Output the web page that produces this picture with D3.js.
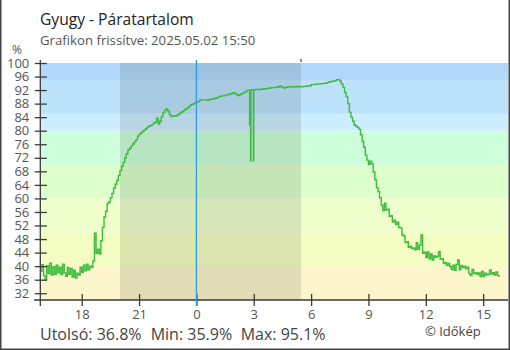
<!DOCTYPE html>
<html><head><meta charset="utf-8">
<script src="https://cdn.jsdelivr.net/npm/d3@7"></script>
<style>
html,body{margin:0;padding:0;background:#fff;}
svg{display:block;font-family:"Open Sans",sans-serif;}
</style></head>
<body><svg id="c" width="510" height="350"></svg>
<script>
// ---- data ----
const startHour = -8 - 10/60;   // 15:50 previous day, hours relative to midnight
const stepMin = 5;              // main series: one reading every 5 minutes
const humidity = [
 38.5,40.4,37.2,35.9,40.1,37.8,40.9,37.4,39.8,37.6,40.3,38.0,
 39.7,37.5,40.6,38.0,37.0,39.6,37.6,39.3,36.8,38.8,36.5,37.9,
 37.4,39.7,38.2,40.3,38.6,40.6,38.9,40.0,39.6,41.5,49.7,43.8,
 45.0,43.6,47.5,51.5,54.5,56.2,58.5,59.0,60.2,61.5,63.0,64.2,
 65.3,66.8,68.2,69.5,70.6,72.0,73.2,74.3,74.8,75.6,76.1,76.7,
 77.3,78.4,79.0,79.4,79.8,80.1,80.6,81.0,81.3,81.5,81.8,82.3,
 82.5,83.7,82.0,82.8,84.2,85.3,86.0,86.4,85.8,84.8,84.2,84.3,
 84.4,84.3,84.7,85.0,85.4,85.6,86.0,86.4,86.6,87.1,87.5,87.8,
 88.0,88.3,88.5,88.6,89.0,89.1,89.1,89.1,89.1,89.0,89.2,89.3,
 89.3,89.5,89.6,89.8,90.0,90.2,90.3,90.3,90.5,90.6,90.7,90.9,
 91.0,91.2,91.0,90.7,90.4,90.6,90.9,91.1,91.4,91.7,92.0,92.0,
 92.1,92.1,92.1,92.2,92.2,92.1,92.2,92.3,92.2,92.4,92.5,92.5,
 92.6,92.7,92.7,92.8,92.8,92.9,93.2,93.0,92.8,92.6,92.8,93.0,
 93.0,93.0,92.9,93.0,93.0,93.1,93.0,93.0,93.0,93.1,93.1,93.2,
 93.2,93.3,93.6,93.6,93.7,93.8,93.8,93.8,93.9,93.9,94.0,94.0,
 94.2,94.4,94.5,94.6,94.7,94.8,95.1,95.1,94.6,93.8,92.8,91.3,
 90.0,88.0,85.5,84.0,82.8,81.7,81.3,81.0,80.4,78.8,76.8,75.1,
 72.8,71.3,70.0,71.0,70.2,67.8,65.5,63.2,62.0,60.2,58.0,56.4,
 58.6,56.6,56.8,54.7,54.9,53.0,53.6,52.3,53.0,51.4,51.3,49.2,
 48.9,47.0,47.2,45.6,45.9,45.2,45.4,44.8,46.9,45.0,46.2,49.2,
 43.8,44.1,42.6,44.2,42.2,43.6,41.8,43.0,42.6,42.9,44.3,42.1,
 42.2,40.8,41.1,40.2,40.8,39.9,39.0,40.3,38.8,40.5,41.8,38.9,
 40.2,39.6,40.0,39.2,39.7,37.8,37.2,39.0,37.8,38.1,37.6,38.0,
 36.9,38.4,36.9,37.9,37.4,37.6,38.9,37.7,38.1,37.4,38.3,37.2,
 36.8
];
// short single-minute readings (sensor dropouts around 03:00): [minutes after 15:50, value]
const shortReadings = [[657,81.7],[658,92.0],[660,71.1],[661,92.1],[669,71.1],[670,92.1]];
const xTickHours = [-6,-3,0,3,6,9,12,15];
const xTickLabels = ["18","21","0","3","6","9","12","15"];
const yTicks = [32,36,40,44,48,52,56,60,64,68,72,76,80,84,88,92,96,100];
const bandLimits = [30,40,50,60,70,80,85,95,100];
const bandColors = ["#fdf6cc","#f5fec2","#eeffcc","#ddffcc","#ccffda","#cdeeff","#bde2fc","#b1d8fb"];
const night = [-4.0, 5.47];
const title = "Gyugy - Páratartalom";
const subtitle = "Grafikon frissítve: 2025.05.02 15:50";
const summaryParts = ["Utolsó: 36.8%", "Min: 35.9%", "Max: 95.1%"];
const credit = "© Időkép";

// ---- chart ----
const svg = d3.select("#c");
const L = 40.3, R = 508, T = 63, B = 300;
const x = d3.scaleLinear().domain([startHour, 16.3]).range([L, R]);
const y = d3.scaleLinear().domain([30, 100]).range([B, T]);

// bands
svg.append("g").selectAll("rect").data(bandColors).join("rect")
  .attr("x", L).attr("width", R - L)
  .attr("y", (d,i) => y(bandLimits[i+1]))
  .attr("height", (d,i) => y(bandLimits[i]) - y(bandLimits[i+1]))
  .attr("fill", d => d);

// night shading
svg.append("rect").attr("x", x(night[0])).attr("width", x(night[1]) - x(night[0]))
  .attr("y", T).attr("height", B - T).attr("fill", "rgba(0,0,0,0.1)");
svg.append("line").attr("x1", x(night[1])).attr("x2", x(night[1]))
  .attr("y1", 59).attr("y2", 62).attr("stroke", "#444").attr("stroke-width", 1.2);

// data line
const series = humidity.map((v,i) => ({t: i*stepMin, v}))
  .concat(shortReadings.map(d => ({t: d[0], v: d[1]})));
series.sort((a,b) => a.t - b.t);
svg.append("path").datum(series)
  .attr("d", d3.line().x(d => x(startHour + d.t/60)).y(d => y(d.v)).curve(d3.curveStepAfter))
  .attr("fill", "none").attr("stroke", "#3cbb3c").attr("stroke-width", 1.4);

// axes
const axCol = "#3a3a3a";
svg.append("line").attr("x1", L).attr("x2", L).attr("y1", 60).attr("y2", 306)
  .attr("stroke", axCol).attr("stroke-width", 1.3);
svg.append("line").attr("x1", 34).attr("x2", R).attr("y1", B).attr("y2", B)
  .attr("stroke", axCol).attr("stroke-width", 1.3);

const yAxis = d3.axisLeft(y).tickValues(yTicks).tickSize(0).tickPadding(0);
const gy = svg.append("g").attr("transform", `translate(${L},0)`).call(yAxis);
gy.select(".domain").remove();
gy.selectAll(".tick line").remove();
gy.selectAll(".tick").append("line").attr("x1", -5.5).attr("x2", 6.5)
  .attr("stroke", axCol).attr("stroke-width", 1.3);
gy.selectAll(".tick text").attr("x", -11).attr("fill", "#555")
  .style("font-size", "13px").style("font-family", "Open Sans");

const xAxis = d3.axisBottom(x).tickValues(xTickHours)
  .tickFormat((d,i) => xTickLabels[i]).tickSize(0);
const gx = svg.append("g").attr("transform", `translate(0,${B})`).call(xAxis);
gx.select(".domain").remove();
gx.selectAll(".tick").append("line").attr("y1", -6).attr("y2", 6)
  .attr("stroke", axCol).attr("stroke-width", 1.3);
gx.selectAll(".tick text").attr("y", 19.3).attr("dy", 0).attr("fill", "#555")
  .style("font-size", "13px").style("font-family", "Open Sans");

// midnight line
svg.append("line").attr("x1", x(0)).attr("x2", x(0)).attr("y1", 60).attr("y2", 306)
  .attr("stroke", "#2b9be2").attr("stroke-width", 1.3);

// texts
svg.append("text").attr("x", 40).attr("y", 25).text(title)
  .attr("fill", "#222").style("font-size", "15.6px");
svg.append("text").attr("x", 40).attr("y", 44.5).text(subtitle)
  .attr("fill", "#555").style("font-size", "13.2px");
svg.append("text").attr("x", 17).attr("y", 54).attr("text-anchor", "middle").text("%")
  .attr("fill", "#555").style("font-size", "12px");
const summaryX = [40, 150.7, 240.7];
svg.append("g").selectAll("text").data(summaryParts).join("text")
  .attr("x", (d,i) => summaryX[i]).attr("y", 339.5).text(d => d)
  .attr("fill", "#444").style("font-size", "16px");
svg.append("text").attr("x", 425).attr("y", 336).text(credit)
  .attr("fill", "#444").style("font-size", "13px");

// frame
svg.append("path").attr("d", "M0.75,0 V349.25 H509.25 V0")
  .attr("fill", "none").attr("stroke", "#444").attr("stroke-width", 1.5);
</script></body></html>
